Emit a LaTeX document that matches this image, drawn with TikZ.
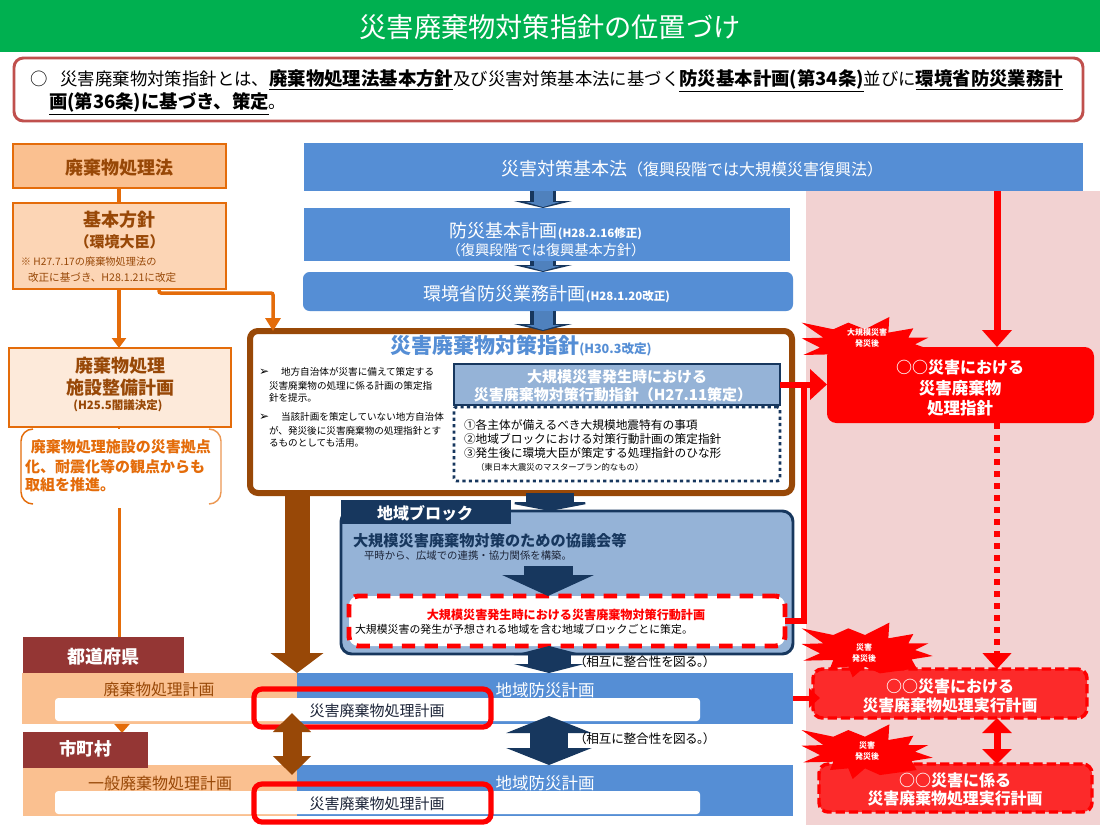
\documentclass[tikz,border=0pt]{standalone}
\usepackage{fontspec}
\setmainfont{Noto Sans CJK JP}
\newfontfamily\symfont{DejaVu Sans}
\usetikzlibrary{arrows.meta,fit,calc}
\newcommand\F[1]{\fontsize{\fpeval{#1*0.75}pt}{\fpeval{#1*0.9}pt}\selectfont}
\newcommand\KB[1]{\underline{\textbf{\F{18.4}#1}}}
\definecolor{cgreen}{HTML}{00B050}
\definecolor{cframe}{HTML}{C0504D}
\definecolor{cblue}{HTML}{558ED5}
\definecolor{cblue2}{HTML}{4F81BD}
\definecolor{cpale}{HTML}{95B3D7}
\definecolor{cnavy}{HTML}{17375E}
\definecolor{corange}{HTML}{E46C0A}
\definecolor{cbrown}{HTML}{984807}
\definecolor{cwine}{HTML}{943634}
\definecolor{cpeach}{HTML}{FAC090}
\definecolor{cpeachb}{HTML}{FCD5B5}
\definecolor{cpeachc}{HTML}{FDEADA}
\definecolor{cpink}{HTML}{F2D2D2}
\definecolor{cink}{HTML}{1C2438}
\tikzset{
  plainbox/.style={rectangle,inner sep=0pt,outer sep=0pt},
  lab/.style={inner sep=0pt,outer sep=0pt},
  bluebar/.style={plainbox,fill=cblue},
  orangebox/.style={plainbox,draw=corange,line width=1.5pt},
  redframe/.style={plainbox,draw=red,line width=3.9pt,rounded corners=6pt},
  whitebar/.style={plainbox,fill=white,rounded corners=2.5pt},
  redplan/.style={plainbox,draw=red,fill=red,fill opacity=.8,draw opacity=1,line width=2.6pt,dash pattern=on 7pt off 3pt,rounded corners=7pt},
  blockarr/.style n args={3}{line width=\fpeval{#1*0.75}pt,-{Triangle[length=\fpeval{#3*0.75}pt,width=\fpeval{#2*0.75}pt]}},
  dblarr/.style n args={3}{line width=\fpeval{#1*0.75}pt,{Triangle[length=\fpeval{#3*0.75}pt,width=\fpeval{#2*0.75}pt]}-{Triangle[length=\fpeval{#3*0.75}pt,width=\fpeval{#2*0.75}pt]}},
}
\newcommand\burst[1]{%
  \begin{scope}[shift={(780,#1)},x=.25pt,y=-.25pt]
  \fill[red] (65,25)--(160,45)--(205,25)--(255,45)--(328,8)--(325,55)--(400,42)--(385,70)--(445,70)--(405,90)--(458,108)--(395,118)--(410,145)--(300,160)--(255,140)--(218,172)--(205,140)--(150,145)--(160,120)--(70,122)--(120,100)--(65,72)--(130,70)--cycle;
  \end{scope}}
\begin{document}
\begin{tikzpicture}[x=0.75pt,y=-0.75pt]
\useasboundingbox (0,0) rectangle (1100,825);
\fill[white] (0,0) rectangle (1100,825);
% columns
\coordinate (c119) at (119,0);
\coordinate (c122) at (122,0);
\coordinate (c159) at (159,0);
\coordinate (c273) at (273,0);
\coordinate (c292) at (292,0);
\coordinate (c297) at (297,0);
\coordinate (c543) at (543,0);
\coordinate (c549) at (549,0);
\coordinate (c550) at (550,0);
\coordinate (c804) at (804,0);
\coordinate (c997) at (997,0);
% header
\node[plainbox,fill=cgreen,fit={(0,0)(1100,52)}] (head) {};
\node[lab,text=white] (headt) at (550,27) {\F{27.2}災害廃棄物対策指針の位置づけ};
\node[plainbox,draw=cframe,line width=2.2pt,rounded corners=7pt,fill=white,fit={(14,58)(1083,121)}] (intro) {};
\node[lab,anchor=west] (introa) at (30,80.5) {\F{17.4}○\hspace{0.75em}災害廃棄物対策指針とは、\KB{廃棄物処理法基本方針}及び災害対策基本法に基づく\KB{防災基本計画(第34条)}並びに\KB{環境省防災業務計}};
\node[lab,anchor=west] (introb) at (49,103.5) {\F{17.4}\KB{画(第36条)に基づき、策定}。};
% pink column
\node[plainbox,fill=cpink,fit={(806,191)(1100,825)}] (pink) {};
% central column
\node[bluebar,fit={(304,143)(1083,191)}] (law) {};
\node[lab,text=white] (lawt) at (692,169) {\F{18}災害対策基本法\F{16}（復興段階では大規模災害復興法）};
\node[bluebar,fit={(304,208)(790,261)}] (plan) {};
\node[bluebar,rounded corners=5pt,fit={(303,272)(793,311)}] (moe) {};
\node[plainbox,draw=cbrown,line width=4.5pt,rounded corners=6pt,fill=white,fit={(250,331)(792,493)}] (guide) {};
\foreach \a/\b in {law/plan,plan/moe,moe/guide}{
  \draw[cnavy,blockarr={26}{58}{7}] (\a.south -| c543) -- (\b.north -| c543);
  \draw[cblue2,blockarr={19}{34}{5}] (\a.south -| c543) -- ($(\b.north -| c543)+(0,-1)$);
}
\node[lab,text=white] (plant) at (546,231) {\F{18}防災基本計画\textbf{\F{11.5}(H28.2.16修正)}};
\node[lab,text=white] (plantb) at (546,250) {\F{14.2}（復興段階では復興基本方針）};
\node[lab,text=white] (moet) at (547,294) {\F{18}環境省防災業務計画\textbf{\F{11.5}(H28.1.20改正)}};
% left column
\node[orangebox,fill=cpeach,fit={(13,144)(226,188)}] (wlaw) {};
\node[orangebox,fill=cpeachb,fit={(13,203)(226,289)}] (basic) {};
\node[orangebox,fill=cpeachc,fit={(9,348)(231,427)}] (fac) {};
\node[lab,text=cbrown] (wlawt) at (119.5,168) {\textbf{\F{18}廃棄物処理法}};
\node[lab,text=cbrown] (basict) at (119.5,220) {\textbf{\F{18}基本方針}};
\node[lab,text=cbrown] (basicb) at (119.5,242) {\textbf{\F{15}（環境大臣）}};
\node[lab,text=cbrown,anchor=west] (notea) at (21,262) {\F{10.2}※ H27.7.17の廃棄物処理法の};
\node[lab,text=cbrown,anchor=west] (noteb) at (28,277) {\F{10.6}改正に基づき、H28.1.21に改定};
\node[lab,text=cbrown] (fact) at (120,366) {\textbf{\F{18}廃棄物処理}};
\node[lab,text=cbrown] (facb) at (120,388) {\textbf{\F{18}施設整備計画}};
\node[lab,text=cbrown] (facc) at (118,406) {\textbf{\F{11.5}(H25.5閣議決定)}};
\draw[corange,line width=2.6pt] (wlaw.south -| c119) -- (basic.north -| c119);
\draw[corange,blockarr={3.5}{14}{10}] (basic.south -| c119) -- (fac.north -| c119);
\draw[corange,blockarr={3.5}{15}{13},rounded corners=1.5pt] (basic.south -| c159) -- ++(0,4) -| (guide.north -| c273);
% bracket note
\node[plainbox,fit={(21,429)(221,504)}] (pgroup) {};
\draw[corange,line width=1.1pt,rounded corners=9pt] (33,429) -- (21,429) -- (21,504) -- (33,504);
\draw[corange!70,line width=1.1pt,rounded corners=9pt] (209,429) -- (221,429) -- (221,504) -- (209,504);
\draw[corange,line width=2.2pt] (fac.south -| c119) -- (pgroup.north -| c119);
\node[lab,text=corange,anchor=west] (pa) at (31,447) {\textbf{\F{15}廃棄物処理施設の災害拠点}};
\node[lab,text=corange,anchor=west] (pb) at (25,467) {\textbf{\F{15}化、耐震化等の観点からも}};
\node[lab,text=corange,anchor=west] (pc) at (25,485) {\textbf{\F{15}取組を推進。}};
% guide contents
\node[lab,text=cblue] (gt) at (521,346) {\textbf{\F{21}災害廃棄物対策指針}\textbf{\F{12.6}(H30.3改定)}};
\node[lab,anchor=west] (ba) at (259,372) {\symfont\F{12}➢};
\node[lab,anchor=west] (b1) at (281,372) {\F{9.6}地方自治体が災害に備えて策定する};
\node[lab,anchor=west] (b2) at (269,386) {\F{9.6}災害廃棄物の処理に係る計画の策定指};
\node[lab,anchor=west] (b3) at (269,398) {\F{9.6}針を提示。};
\node[lab,anchor=west] (bb) at (259,417) {\symfont\F{12}➢};
\node[lab,anchor=west] (b4) at (281,417) {\F{9.6}当該計画を策定していない地方自治体};
\node[lab,anchor=west] (b5) at (269,431) {\F{9.6}が、発災後に災害廃棄物の処理指針とす};
\node[lab,anchor=west] (b6) at (269,443) {\F{9.6}るものとしても活用。};
\node[plainbox,draw=cnavy,line width=2.2pt,dash pattern=on 2.4pt off 2.4pt,rounded corners=2pt,fit={(454,407)(780,481)}] (dots) {};
\node[plainbox,draw=cnavy,line width=2.2pt,fill=cpale,fit={(454,364)(780,405)}] (hdr) {};
\node[lab,text=white] (hdra) at (617,377) {\textbf{\F{15}大規模災害発生時における}};
\node[lab,text=white] (hdrb) at (613,395) {\textbf{\F{15}災害廃棄物対策行動指針（H27.11策定）}};
\node[lab,anchor=west] (d1) at (464,425) {\F{11.7}①各主体が備えるべき大規模地震特有の事項};
\node[lab,anchor=west] (d2) at (464,439) {\F{11.7}②地域ブロックにおける対策行動計画の策定指針};
\node[lab,anchor=west] (d3) at (464,453) {\F{11.7}③発生後に環境大臣が策定する処理指針のひな形};
\node[lab,anchor=west] (d4) at (476,467) {\F{8.4}（東日本大震災のマスタープラン的なもの）};
% regional block
\node[plainbox,draw=cnavy,line width=2.2pt,fill=cpale,rounded corners=8pt,fit={(341,511)(793,654)}] (block) {};
\node[plainbox,fill=cnavy,fit={(341,500)(511,524)}] (blocktab) {};
\node[lab,text=white] (blockt) at (425,513) {\textbf{\F{16}地域ブロック}};
\draw[cnavy,blockarr={48}{94}{9}] (guide.south -| c550) -- (block.north -| c550);
\node[lab,text=cnavy,anchor=west] (council) at (353,541) {\textbf{\F{15.2}大規模災害廃棄物対策のための協議会等}};
\node[lab,anchor=west,text=cink] (councilb) at (364,556) {\F{10.4}平時から、広域での連携・協力関係を構築。};
\node[plainbox,draw=red,fill=white,line width=3.7pt,dash pattern=on 10pt off 7pt,rounded corners=7pt,fit={(349,596)(785,646)}] (act) {};
\coordinate (cabove) at (548,566);
\draw[cnavy,blockarr={49}{91}{21}] (cabove) -- (act.north -| cabove);
\node[lab,text=red] (actt) at (566,615) {\textbf{\F{12.1}大規模災害発生時における災害廃棄物対策行動計画}};
\node[lab,anchor=west] (actb) at (355,629) {\F{10.9}大規模災害の発生が予想される地域を含む地域ブロックごとに策定。};
% prefecture / municipality bands
\node[plainbox,fill=cpeach,fit={(22,673)(297,724)}] (porg) {};
\node[plainbox,fill=cblue,fit={(297,673)(793,724)}] (pblu) {};
\node[plainbox,fill=cpeach,fit={(23,765)(297,816)}] (morg) {};
\node[plainbox,fill=cblue,fit={(297,765)(793,816)}] (mblu) {};
\draw[corange,blockarr={3}{14}{8}] (119,508) -- (119,673);
\draw[corange,blockarr={3}{15}{9}] (porg.south -| c122) -- (122,733);
\node[plainbox,fill=cwine,fit={(23,637)(184,673)}] (pref) {};
\node[plainbox,fill=cwine,fit={(23,732)(148,768)}] (city) {};
\node[lab,text=white] (preft) at (103,657) {\textbf{\F{18}都道府県}};
\node[lab,text=white] (cityt) at (85.5,749) {\textbf{\F{17.5}市町村}};
\node[lab,text=cbrown] (port) at (159,690) {\F{15.8}廃棄物処理計画};
\node[lab,text=cbrown] (mort) at (160,783) {\F{16}一般廃棄物処理計画};
\node[lab,text=white] (pblt) at (545,690) {\F{16.5}地域防災計画};
\node[lab,text=white] (mblt) at (545,783) {\F{16.5}地域防災計画};
\node[whitebar,fit={(55,698)(700,721)}] (pwb) {};
\node[whitebar,fit={(55,791)(700,814)}] (mwb) {};
\node[redframe,fit={(254,689)(491,727)}] (pred) {};
\node[redframe,fit={(254,784)(491,822)}] (mred) {};
\node[lab,text=cink] (prt) at (377,711) {\F{15}災害廃棄物処理計画};
\node[lab,text=cink] (mrt) at (377,804) {\F{15}災害廃棄物処理計画};
\draw[cbrown,blockarr={25}{52}{20}] (guide.south -| c297) -- (porg.north east);
\draw[cbrown,dblarr={19}{37}{19}] (292,713) -- (292,775);
\draw[cnavy,dblarr={43}{70}{9}] ($(block.south -| c549)+(0,-8)$) -- (pblu.north -| c549);
\draw[cnavy,dblarr={38}{85}{17}] (549,716) -- (mblu.north -| c549);
\node[lab,anchor=west] (agra) at (580,662) {\addfontfeature{RawFeature=+palt}\F{12.6}（相互に整合性を図る。）};
\node[lab,anchor=west] (agrb) at (580,739) {\addfontfeature{RawFeature=+palt}\F{12.6}（相互に整合性を図る。）};
% red column
\burst{314.3}
\burst{620}
\burst{721.7}
\node[plainbox,fill=red,rounded corners=7pt,fit={(827,347)(1094,423)}] (redA) {};
\node[redplan,fit={(813,669)(1087,718)}] (redB) {};
\node[redplan,fit={(819,764)(1092,812)}] (redC) {};
\node[lab,text=white] (sa) at (867,332) {\textbf{\F{8}大規模災害}};
\node[lab,text=white] (sb) at (867,343) {\textbf{\F{8}発災後}};
\node[lab,text=white] (sc) at (864,647) {\textbf{\F{8}災害}};
\node[lab,text=white] (sd) at (864,658) {\textbf{\F{8}発災後}};
\node[lab,text=white] (se) at (867,745) {\textbf{\F{8}災害}};
\node[lab,text=white] (sf) at (867,756) {\textbf{\F{8}発災後}};
\node[lab,text=white] (ra) at (960,367) {\textbf{\F{16}○○災害における}};
\node[lab,text=white] (rb) at (960,388) {\textbf{\F{16.5}災害廃棄物}};
\node[lab,text=white] (rc) at (960,408) {\textbf{\F{16.5}処理指針}};
\node[lab,text=white] (rd) at (950,686) {\textbf{\F{16}○○災害における}};
\node[lab,text=white] (re) at (950,706) {\textbf{\F{15.9}災害廃棄物処理実行計画}};
\node[lab,text=white] (rf) at (955,780) {\textbf{\F{16}○○災害に係る}};
\node[lab,text=white] (rg) at (955,799) {\textbf{\F{15.9}災害廃棄物処理実行計画}};
\draw[red,blockarr={7}{29}{17}] (law.south -| c997) -- (redA.north -| c997);
\draw[red,line width=5pt,dash pattern=on 4.5pt off 4.5pt] (redA.south -| c997) -- (997,658);
\draw[red,blockarr={1}{29}{16}] (997,657) -- (redB.north -| c997);
\draw[red,dblarr={7}{29}{15}] (redB.south -| c997) -- (redC.north -| c997);
\draw[red,blockarr={6}{30}{17}] (hdr.east) -- (hdr.east -| redA.west);
\draw[red,line width=3.8pt] (act.east) -| (hdr.east -| c804);
\coordinate (rfeed) at (820,698);
\draw[red,blockarr={5}{19}{11}] (pblu.east |- rfeed) -- (rfeed);
\end{tikzpicture}
\end{document}
